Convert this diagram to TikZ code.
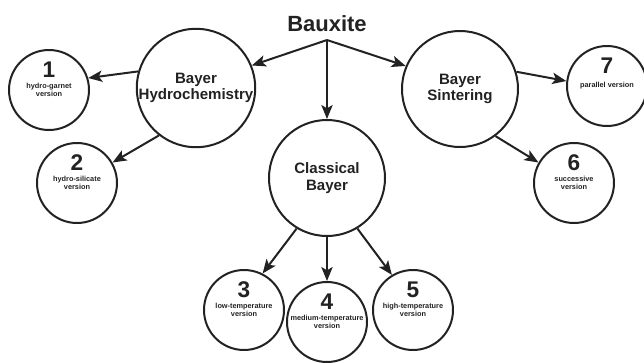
\documentclass[tikz,border=0pt]{standalone}
\usepackage{fontspec}
\setmainfont{Liberation Sans}
\usetikzlibrary{arrows.meta}
\definecolor{ink}{RGB}{34,34,34}

\begin{document}
\begin{tikzpicture}[x=0.75pt,y=-0.75pt,
    routebox/.style={circle,draw=ink,line width=1.5pt,minimum size=87pt,inner sep=0pt,
        align=center,text=ink,font=\bfseries\fontsize{11.3}{12.5}\selectfont},
    verbox/.style={circle,draw=ink,line width=1.5pt,minimum size=60pt,inner sep=0pt,
        align=center,text=ink,font=\bfseries\fontsize{5.5}{6.2}\selectfont},
    numlabel/.style={text=ink,font=\bfseries\fontsize{17}{17}\selectfont,yshift=15.5pt}]
    \useasboundingbox (0,0) rectangle (644,362);

    \node (bauxite) [anchor=south,inner sep=6pt,text=ink,font=\bfseries\fontsize{16.5}{18}\selectfont] at (327,40) {Bauxite};
    \node (hydro) [routebox] at (196,88) {Bayer\\Hydrochemistry};
    \node (sinter) [routebox] at (460,89) {Bayer\\Sintering};
    \node (classic) [routebox] at (327,178) {Classical\\Bayer};

    \node (v1) [verbox,label={[numlabel]center:1}] at (49,90) {hydro-garnet\\version};
    \node (v2) [verbox,label={[numlabel]center:2}] at (77,183) {hydro-silicate\\version};
    \node (v3) [verbox,label={[numlabel]center:3}] at (244,310) {low-temperature\\version};
    \node (v4) [verbox,label={[numlabel]center:4}] at (327,322) {medium-temperature\\version};
    \node (v5) [verbox,label={[numlabel]center:5}] at (413,310) {high-temperature\\version};
    \node (v6) [verbox,label={[numlabel]center:6}] at (574,183) {successive\\version};
    \node (v7) [verbox,label={[numlabel]center:7}] at (607,86) {parallel version};

    % arrows
    \path[ink,line width=1.5pt,-{Stealth[length=10.5pt,width=8.5pt,inset=2.5pt]}]
    (bauxite.south) edge (hydro.22)
    (bauxite.south) edge (sinter.157)
    (bauxite.south) edge (classic.north)
    (hydro.164) edge (v1.17)
    (hydro.232) edge (v2.30)
    (sinter.17) edge (v7.173)
    (sinter.307) edge (v6.150)
    (classic.239) edge (v3.63)
    (classic.south) edge (v4.north)
    (classic.301) edge (v5.121);
\end{tikzpicture}
\end{document}
